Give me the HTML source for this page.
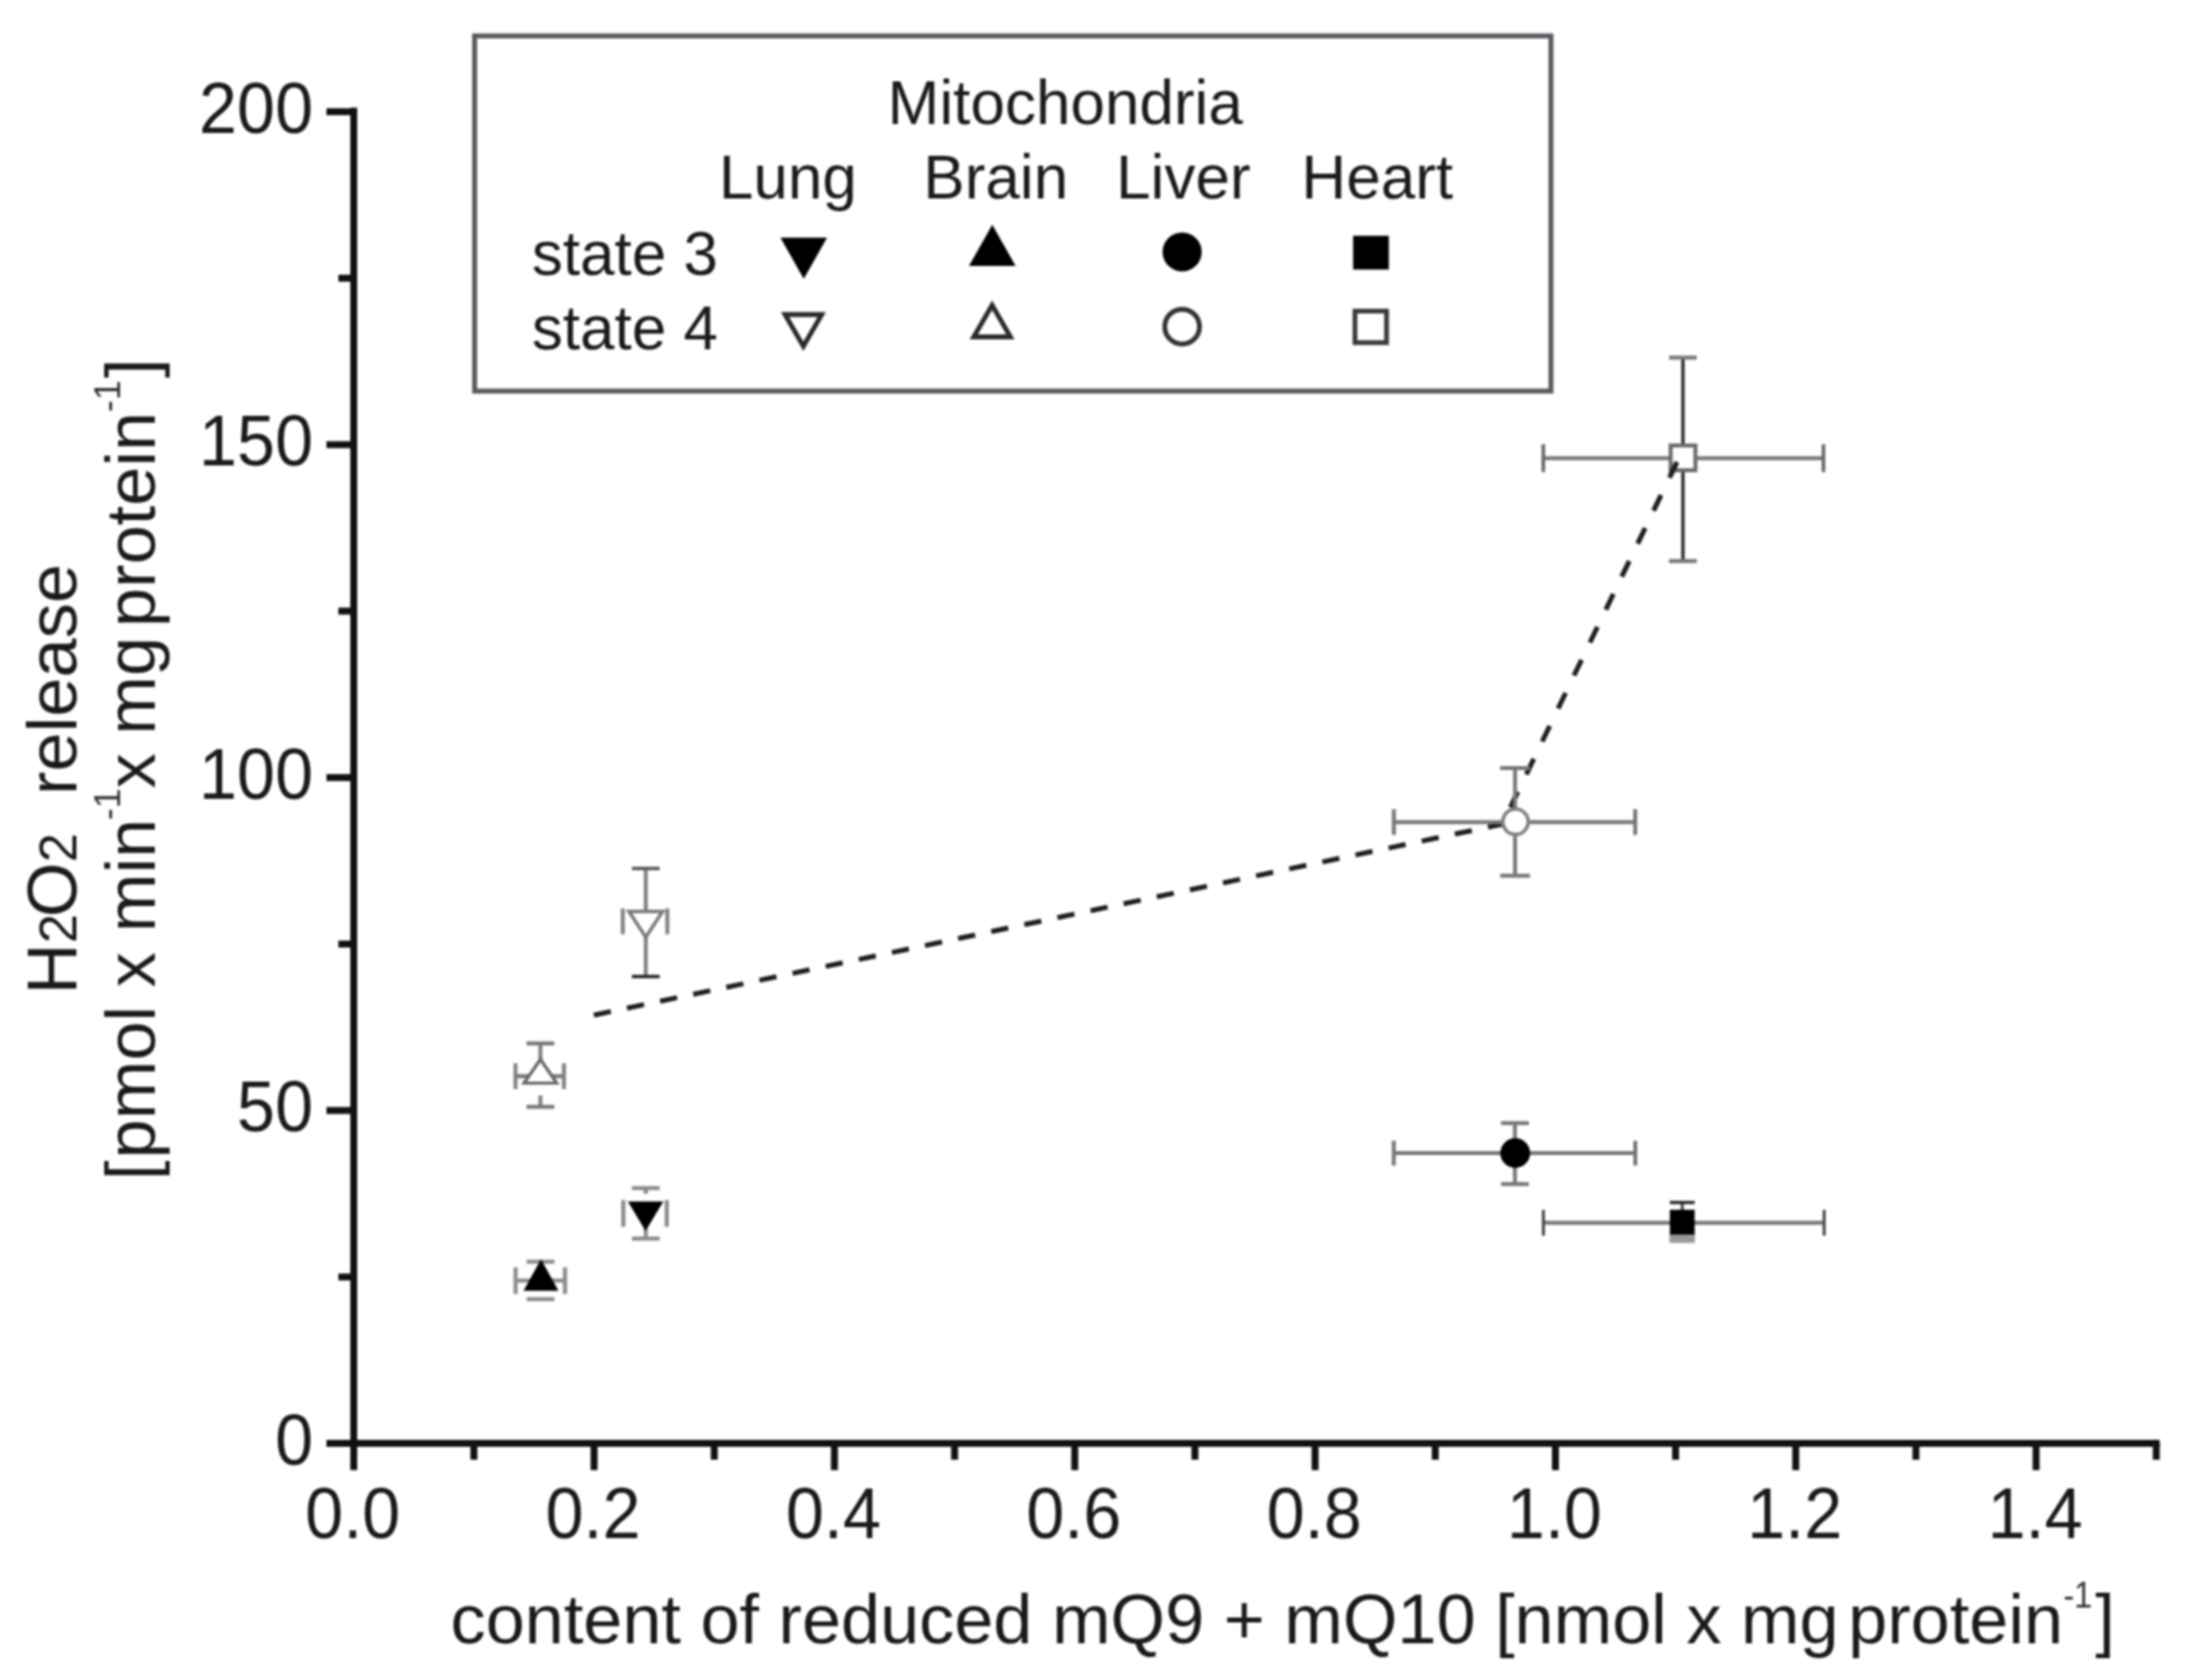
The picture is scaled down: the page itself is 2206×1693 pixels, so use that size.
<!DOCTYPE html>
<html><head><meta charset="utf-8"><title>Figure</title>
<style>
html,body{margin:0;padding:0;background:#fff;}
body{width:2206px;height:1693px;overflow:hidden;}
svg{display:block;filter:blur(1px);}
text{font-family:"Liberation Sans",sans-serif;fill:#1a1a1a;stroke:none;}
.sup{fill:#333;}
</style></head><body>
<svg width="2206" height="1693" viewBox="0 0 2206 1693">
<rect x="0" y="0" width="2206" height="1693" fill="#ffffff"/>

<g stroke="#111" stroke-width="7" fill="none" stroke-linecap="butt">
<line x1="356.5" y1="108.5" x2="356.5" y2="1481.5"/>
<line x1="329" y1="1454.6" x2="2176.5" y2="1454.6"/>
<line x1="329" y1="1119.1" x2="356.5" y2="1119.1"/>
<line x1="329" y1="783.6" x2="356.5" y2="783.6"/>
<line x1="329" y1="448.1" x2="356.5" y2="448.1"/>
<line x1="329" y1="112.6" x2="356.5" y2="112.6"/>
<line x1="341" y1="1286.85" x2="356.5" y2="1286.85"/>
<line x1="341" y1="951.35" x2="356.5" y2="951.35"/>
<line x1="341" y1="615.85" x2="356.5" y2="615.85"/>
<line x1="341" y1="280.35" x2="356.5" y2="280.35"/>
<line x1="477.6" y1="1454.6" x2="477.6" y2="1471"/>
<line x1="598.7" y1="1454.6" x2="598.7" y2="1481.5"/>
<line x1="719.8" y1="1454.6" x2="719.8" y2="1471"/>
<line x1="840.9" y1="1454.6" x2="840.9" y2="1481.5"/>
<line x1="962" y1="1454.6" x2="962" y2="1471"/>
<line x1="1083.1" y1="1454.6" x2="1083.1" y2="1481.5"/>
<line x1="1204.2" y1="1454.6" x2="1204.2" y2="1471"/>
<line x1="1325.3" y1="1454.6" x2="1325.3" y2="1481.5"/>
<line x1="1446.4" y1="1454.6" x2="1446.4" y2="1471"/>
<line x1="1567.5" y1="1454.6" x2="1567.5" y2="1481.5"/>
<line x1="1688.6" y1="1454.6" x2="1688.6" y2="1471"/>
<line x1="1809.7" y1="1454.6" x2="1809.7" y2="1481.5"/>
<line x1="1930.8" y1="1454.6" x2="1930.8" y2="1471"/>
<line x1="2051.9" y1="1454.6" x2="2051.9" y2="1481.5"/>
<line x1="2173" y1="1454.6" x2="2173" y2="1471"/>
</g>
<g font-size="70" text-anchor="end">
<text transform="translate(315.5,1475.6) scale(0.985,1.035)">0</text>
<text transform="translate(315.5,1140.1) scale(0.985,1.035)">50</text>
<text transform="translate(315.5,804.6) scale(0.985,1.035)">100</text>
<text transform="translate(315.5,469.1) scale(0.985,1.035)">150</text>
<text transform="translate(315.5,133.6) scale(0.985,1.035)">200</text>
</g>
<g font-size="70" text-anchor="middle">
<text transform="translate(355.5,1550) scale(0.985,1.035)">0.0</text>
<text transform="translate(597.7,1550) scale(0.985,1.035)">0.2</text>
<text transform="translate(839.9,1550) scale(0.985,1.035)">0.4</text>
<text transform="translate(1082.1,1550) scale(0.985,1.035)">0.6</text>
<text transform="translate(1324.3,1550) scale(0.985,1.035)">0.8</text>
<text transform="translate(1566.5,1550) scale(0.985,1.035)">1.0</text>
<text transform="translate(1808.7,1550) scale(0.985,1.035)">1.2</text>
<text transform="translate(2050.9,1550) scale(0.985,1.035)">1.4</text>
</g>
<text x="454" y="1655.5" font-size="70.8">content of reduced mQ9 + mQ10 [nmol x mg<tspan dx="-10"> protein</tspan></text>
<text transform="translate(2079.5,1619.8) scale(0.88,1)" font-size="37" class="sup">-1</text>
<text x="2111.6" y="1655.5" font-size="71">]</text>
<text transform="translate(76.6,1001.9) rotate(-90)" font-size="71">H<tspan font-size="53">2</tspan><tspan dx="-3">O</tspan><tspan font-size="53">2</tspan></text>
<text transform="translate(76.6,801.2) rotate(-90)" font-size="71">release</text>
<text transform="translate(156.4,1189.3) rotate(-90)" font-size="71">[</text>
<text transform="translate(156.4,1167.5) rotate(-90)" font-size="71">pmol</text>
<text transform="translate(156.4,995) rotate(-90)" font-size="71">x</text>
<text transform="translate(156.4,939.5) rotate(-90)" font-size="71">min</text>
<text transform="translate(120.8,826.5) rotate(-90)" font-size="36" class="sup">-1</text>
<text transform="translate(156.4,794.5) rotate(-90)" font-size="71">x</text>
<text transform="translate(156.4,740.5) rotate(-90)" font-size="71">mg</text>
<text transform="translate(156.4,632) rotate(-90)" font-size="71">protein</text>
<text transform="translate(120.8,415.3) rotate(-90)" font-size="36" class="sup">-1</text>
<text transform="translate(156.4,381) rotate(-90)" font-size="71">]</text>
<rect x="478.3" y="36.2" width="1084.7" height="357.9" fill="#fff" stroke="#5a5a5f" stroke-width="5"/>
<g font-size="62.5">
<text x="1073.5" y="125" text-anchor="middle">Mitochondria</text>
<text x="794" y="200" text-anchor="middle">Lung</text>
<text x="1003.5" y="200" text-anchor="middle">Brain</text>
<text x="1192.5" y="200" text-anchor="middle">Liver</text>
<text x="1388" y="200" text-anchor="middle">Heart</text>
<text x="536" y="276.5">state 3</text>
<text x="536" y="351.5">state 4</text>
</g>
<polygon points="786.5,239.5 833.5,239.5 810,281" fill="#000" stroke="none" stroke-width="0" stroke-linejoin="miter"/>
<polygon points="976.5,268 1023.5,268 1000,226.5" fill="#000" stroke="none" stroke-width="0" stroke-linejoin="miter"/>
<circle cx="1191.3" cy="253.9" r="19.7" fill="#000" stroke="none" stroke-width="0"/>
<rect x="1363.6" y="237.6" width="36" height="34" fill="#000" stroke="none" stroke-width="0"/>
<polygon points="791.1,317 828.1,317 809.6,349" fill="#fff" stroke="#2a2a2a" stroke-width="4.8" stroke-linejoin="miter"/>
<polygon points="981.3,339.5 1018.3,339.5 999.8,307.5" fill="#fff" stroke="#2a2a2a" stroke-width="4.8" stroke-linejoin="miter"/>
<circle cx="1191.3" cy="329.2" r="17.5" fill="#fff" stroke="#333" stroke-width="4.9"/>
<rect x="1365.5" y="313.5" width="31.8" height="31.8" fill="#fff" stroke="#3a3a3a" stroke-width="4.8"/>
<g fill="none"><line x1="1555.3" y1="461.7" x2="1837.6" y2="461.7" stroke="#777" stroke-width="4"/><line x1="1555.3" y1="447.7" x2="1555.3" y2="475.7" stroke="#666" stroke-width="3.6"/><line x1="1837.6" y1="447.7" x2="1837.6" y2="475.7" stroke="#666" stroke-width="3.6"/><line x1="1696" y1="360.4" x2="1696" y2="565.4" stroke="#262626" stroke-width="3.3"/><line x1="1682" y1="360.4" x2="1710" y2="360.4" stroke="#777" stroke-width="4"/><line x1="1682" y1="565.4" x2="1710" y2="565.4" stroke="#777" stroke-width="4"/></g>
<rect x="1683.6" y="448.9" width="25" height="25" fill="#fff" stroke="#6a6a6a" stroke-width="4"/>
<line x1="598.5" y1="1023" x2="1514" y2="830.5" stroke="#1e1e1e" stroke-width="5" stroke-dasharray="17.5,16.6" fill="none"/>
<line x1="1514" y1="830.5" x2="1692" y2="461.5" stroke="#1e1e1e" stroke-width="5" stroke-dasharray="17.5,19.4" stroke-dashoffset="18.25" fill="none"/>
<g fill="none"><line x1="1404.7" y1="828.4" x2="1647.9" y2="828.4" stroke="#777" stroke-width="4"/><line x1="1404.7" y1="815.4" x2="1404.7" y2="841.4" stroke="#777" stroke-width="4"/><line x1="1647.9" y1="815.4" x2="1647.9" y2="841.4" stroke="#777" stroke-width="4"/><line x1="1526.8" y1="774" x2="1526.8" y2="882.5" stroke="#777" stroke-width="4"/><line x1="1511.8" y1="774" x2="1541.8" y2="774" stroke="#777" stroke-width="4"/><line x1="1511.8" y1="882.5" x2="1541.8" y2="882.5" stroke="#777" stroke-width="4"/></g>
<circle cx="1527.3" cy="828.1" r="12.8" fill="#fff" stroke="#808080" stroke-width="3.6"/>
<g fill="none"><line x1="627.6" y1="915.5" x2="627.6" y2="941.5" stroke="#808080" stroke-width="4"/><line x1="672.5" y1="915.5" x2="672.5" y2="941.5" stroke="#808080" stroke-width="4"/><line x1="650.8" y1="875.2" x2="650.8" y2="984.1" stroke="#808080" stroke-width="4"/><line x1="636.8" y1="875.2" x2="664.8" y2="875.2" stroke="#555" stroke-width="3.4"/><line x1="636.8" y1="984.1" x2="664.8" y2="984.1" stroke="#222" stroke-width="3.4"/></g>
<polygon points="633.8,918.5 667.8,918.5 650.8,944.5" fill="#fff" stroke="#777" stroke-width="3.4" stroke-linejoin="miter"/>
<g fill="none"><line x1="519.5" y1="1084.5" x2="568.3" y2="1084.5" stroke="#777" stroke-width="4"/><line x1="519.5" y1="1071.5" x2="519.5" y2="1097.5" stroke="#808080" stroke-width="4"/><line x1="568.3" y1="1071.5" x2="568.3" y2="1097.5" stroke="#808080" stroke-width="4"/><line x1="544.6" y1="1051.5" x2="544.6" y2="1070" stroke="#808080" stroke-width="4"/><line x1="544.6" y1="1104" x2="544.6" y2="1115.4" stroke="#808080" stroke-width="4"/><line x1="530.6" y1="1051.5" x2="558.6" y2="1051.5" stroke="#777" stroke-width="4"/><line x1="530.6" y1="1115.4" x2="558.6" y2="1115.4" stroke="#777" stroke-width="4"/></g>
<polygon points="528.1,1091.5 561.1,1091.5 544.6,1067.5" fill="#fff" stroke="#666" stroke-width="3.2" stroke-linejoin="miter"/>
<g fill="none"><line x1="1404.6" y1="1162.1" x2="1648" y2="1162.1" stroke="#777" stroke-width="4"/><line x1="1404.6" y1="1149.6" x2="1404.6" y2="1174.6" stroke="#777" stroke-width="4"/><line x1="1648" y1="1149.6" x2="1648" y2="1174.6" stroke="#777" stroke-width="4"/><line x1="1526.7" y1="1131.8" x2="1526.7" y2="1193.2" stroke="#777" stroke-width="4"/><line x1="1512.7" y1="1131.8" x2="1540.7" y2="1131.8" stroke="#777" stroke-width="4"/><line x1="1512.7" y1="1193.2" x2="1540.7" y2="1193.2" stroke="#777" stroke-width="4"/></g>
<circle cx="1527" cy="1162" r="15" fill="#000" stroke="none" stroke-width="0"/>
<g fill="none"><line x1="1555.4" y1="1232.2" x2="1838.3" y2="1232.2" stroke="#777" stroke-width="4"/><line x1="1555.4" y1="1219.2" x2="1555.4" y2="1245.2" stroke="#444" stroke-width="3"/><line x1="1838.3" y1="1219.2" x2="1838.3" y2="1245.2" stroke="#444" stroke-width="3"/><line x1="1695.3" y1="1211.8" x2="1695.3" y2="1249" stroke="#444" stroke-width="3"/><line x1="1682.8" y1="1211.8" x2="1707.8" y2="1211.8" stroke="#222" stroke-width="3.2"/><line x1="1682.8" y1="1249" x2="1707.8" y2="1249" stroke="#999" stroke-width="3.2"/></g>
<rect x="1682.5" y="1243" width="25.6" height="9.5" fill="#999"/>
<rect x="1682.8" y="1219.1" width="25" height="25" fill="#000" stroke="none" stroke-width="0"/>
<g fill="none"><line x1="628.2" y1="1209.3" x2="628.2" y2="1236.3" stroke="#8c8c8c" stroke-width="4.2"/><line x1="671.9" y1="1209.3" x2="671.9" y2="1236.3" stroke="#8c8c8c" stroke-width="4.2"/><line x1="650.8" y1="1197.3" x2="650.8" y2="1203" stroke="#8c8c8c" stroke-width="4.2"/><line x1="650.8" y1="1238" x2="650.8" y2="1248.2" stroke="#8c8c8c" stroke-width="4.2"/><line x1="636.8" y1="1197.3" x2="664.8" y2="1197.3" stroke="#8a8a8a" stroke-width="4"/><line x1="636.8" y1="1248.2" x2="664.8" y2="1248.2" stroke="#8a8a8a" stroke-width="4"/></g>
<polygon points="632.75,1210.7 668.45,1210.7 650.6,1240.4" fill="#000" stroke="none" stroke-width="0" stroke-linejoin="miter"/>
<g fill="none"><line x1="519.6" y1="1290.6" x2="569.4" y2="1290.6" stroke="#8a8a8a" stroke-width="4"/><line x1="519.6" y1="1277.1" x2="519.6" y2="1304.1" stroke="#8c8c8c" stroke-width="4.2"/><line x1="569.4" y1="1277.1" x2="569.4" y2="1304.1" stroke="#8c8c8c" stroke-width="4.2"/><line x1="544.7" y1="1271.5" x2="544.7" y2="1276" stroke="#8c8c8c" stroke-width="4.2"/><line x1="530.7" y1="1271.5" x2="558.7" y2="1271.5" stroke="#8a8a8a" stroke-width="4"/><line x1="530.7" y1="1309.2" x2="558.7" y2="1309.2" stroke="#8a8a8a" stroke-width="4"/></g>
<polygon points="527.6,1300.7 562.8,1300.7 545.2,1269" fill="#000" stroke="none" stroke-width="0" stroke-linejoin="miter"/>
</svg></body></html>
